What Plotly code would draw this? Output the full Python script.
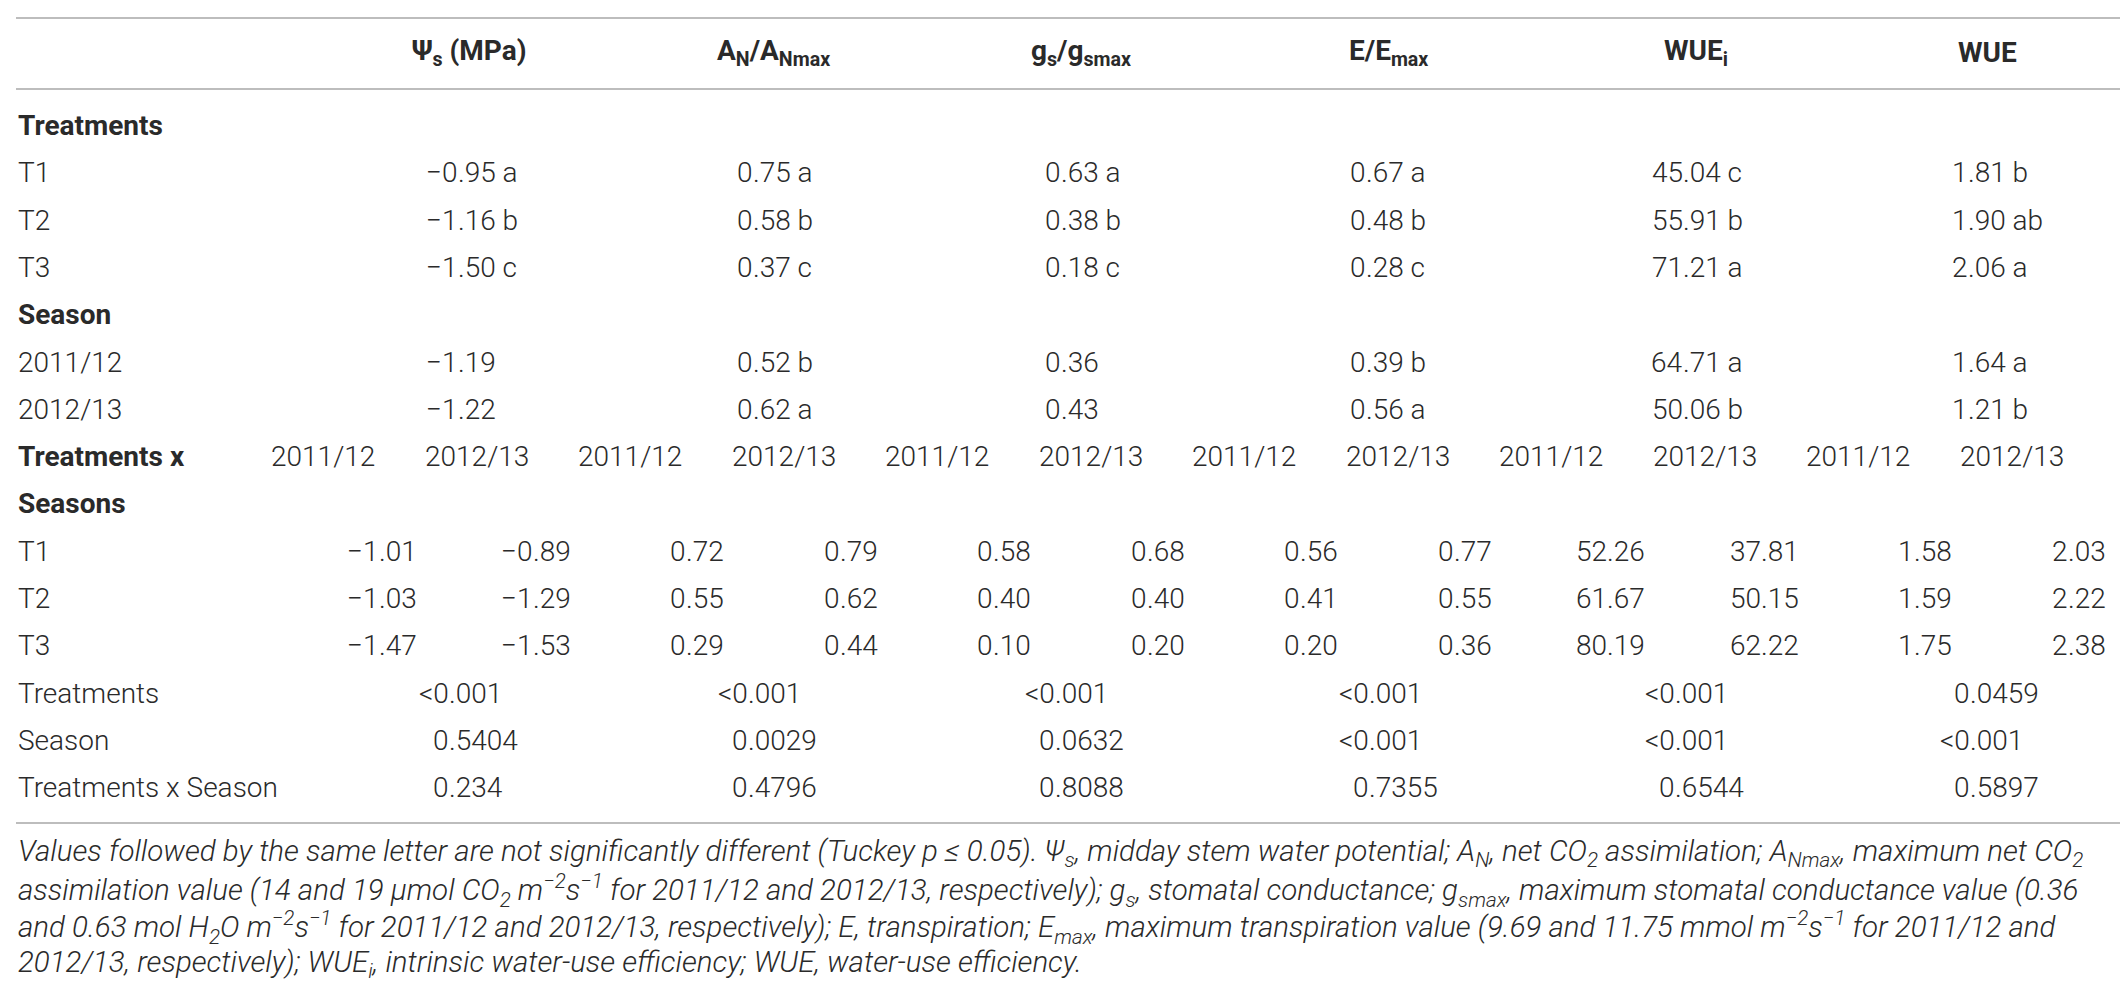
import plotly.graph_objects as go

#-------------------------------------------------------------------------------
#    Table data
#-------------------------------------------------------------------------------
headers = ['Ψ<sub>s</sub> (MPa)', 'A<sub>N</sub>/A<sub>Nmax</sub>',
           'g<sub>s</sub>/g<sub>smax</sub>', 'E/E<sub>max</sub>',
           'WUE<sub>i</sub>', 'WUE']
treatments = ['T1', 'T2', 'T3']
seasons = ['2011/12', '2012/13']

# treatment means
psi_treat = ['−0.95 a', '−1.16 b', '−1.50 c']
an_treat = ['0.75 a', '0.58 b', '0.37 c']
gs_treat = ['0.63 a', '0.38 b', '0.18 c']
e_treat = ['0.67 a', '0.48 b', '0.28 c']
wuei_treat = ['45.04 c', '55.91 b', '71.21 a']
wue_treat = ['1.81 b', '1.90 ab', '2.06 a']

# season means
psi_season = ['−1.19', '−1.22']
an_season = ['0.52 b', '0.62 a']
gs_season = ['0.36', '0.43']
e_season = ['0.39 b', '0.56 a']
wuei_season = ['64.71 a', '50.06 b']
wue_season = ['1.64 a', '1.21 b']

# treatment x season means, rows T1..T3, cols 2011/12, 2012/13
psi_inter = [[-1.01, -0.89], [-1.03, -1.29], [-1.47, -1.53]]
an_inter = [[0.72, 0.79], [0.55, 0.62], [0.29, 0.44]]
gs_inter = [[0.58, 0.68], [0.40, 0.40], [0.10, 0.20]]
e_inter = [[0.56, 0.77], [0.41, 0.55], [0.20, 0.36]]
wuei_inter = [[52.26, 37.81], [61.67, 50.15], [80.19, 62.22]]
wue_inter = [[1.58, 2.03], [1.59, 2.22], [1.75, 2.38]]

# ANOVA p-values
p_labels = ['Treatments', 'Season', 'Treatments x Season']
p_treat = ['<0.001', '<0.001', '<0.001', '<0.001', '<0.001', '0.0459']
p_season = ['0.5404', '0.0029', '0.0632', '<0.001', '<0.001', '<0.001']
p_inter = ['0.234', '0.4796', '0.8088', '0.7355', '0.6544', '0.5897']

footnote = [
    'Values followed by the same letter are not significantly different (Tuckey p ≤ 0.05). '
    'Ψ<sub>s</sub>, midday stem water potential; A<sub>N</sub>, net CO<sub>2</sub> assimilation; '
    'A<sub>Nmax</sub>, maximum net CO<sub>2</sub>',
    'assimilation value (14 and 19 μmol CO<sub>2</sub> m<sup>−2</sup>s<sup>−1</sup> for 2011/12 '
    'and 2012/13, respectively); g<sub>s</sub>, stomatal conductance; g<sub>smax</sub>, maximum '
    'stomatal conductance value (0.36',
    'and 0.63 mol H<sub>2</sub>O m<sup>−2</sup>s<sup>−1</sup> for 2011/12 and 2012/13, respectively); '
    'E, transpiration; E<sub>max</sub>, maximum transpiration value (9.69 and 11.75 mmol '
    'm<sup>−2</sup>s<sup>−1</sup> for 2011/12 and',
    '2012/13, respectively); WUE<sub>i</sub>, intrinsic water-use efficiency; WUE, water-use efficiency.',
]

treat_cols = [psi_treat, an_treat, gs_treat, e_treat, wuei_treat, wue_treat]
season_cols = [psi_season, an_season, gs_season, e_season, wuei_season, wue_season]
inter_cols = [psi_inter, an_inter, gs_inter, e_inter, wuei_inter, wue_inter]

#-------------------------------------------------------------------------------
#    Layout (pixel grid of the page)
#-------------------------------------------------------------------------------
W, H = 2128, 982
FONT = 'Roboto, Liberation Sans, sans-serif'
INK = '#2a2a2a'
SIZE = 28
head_x = [461, 765, 1073, 1380, 1688, 1979]     # header centres
mean_dec = [450, 745, 1053, 1358, 1675, 1960]   # decimal point, mean values
p_dec = [441, 740, 1047, 1361, 1667, 1962]      # decimal point, p-values
sub_dec0, sub_step = 371, 153.5                 # decimal points of the season sub-columns
row_y0, row_step = 117.5, 47.3
label_x = 10

fig = go.Figure()
annots = []


def txt(x, y, s, anchor='left', bold=False, size=SIZE, italic=False):
    annots.append(dict(
        x=x, y=y, xref='x', yref='y', text=s, showarrow=False,
        xanchor=anchor, yanchor='middle', borderpad=0, borderwidth=0,
        font=dict(family=FONT, size=size, color=INK,
                  weight=700 if bold else 300,
                  style='italic' if italic else 'normal'),
    ))


def cell(x_dec, y, s):
    # align on the decimal point
    if '.' in s:
        left, right = s.split('.', 1)
        txt(x_dec, y, left, anchor='right')
        txt(x_dec, y, '.' + right, anchor='left')
    else:
        txt(x_dec, y, s, anchor='left')


def row(i):
    return row_y0 + i * row_step


# header
for j, h in enumerate(headers):
    txt(head_x[j], 44, h, anchor='center', bold=True)

# treatments block
txt(label_x, row(0), 'Treatments', bold=True)
for i, t in enumerate(treatments):
    txt(label_x, row(1 + i), t)
    for j, col in enumerate(treat_cols):
        cell(mean_dec[j], row(1 + i), col[i])

# season block
txt(label_x, row(4), 'Season', bold=True)
for i, s in enumerate(seasons):
    txt(label_x, row(5 + i), s)
    for j, col in enumerate(season_cols):
        cell(mean_dec[j], row(5 + i), col[i])

# treatments x seasons block
txt(label_x, row(7), 'Treatments x', bold=True)
txt(label_x, row(8), 'Seasons', bold=True)
for j in range(len(headers)):
    for k, s in enumerate(seasons):
        txt(sub_dec0 + (2 * j + k) * sub_step - 56, row(7), s, anchor='center')
for i, t in enumerate(treatments):
    txt(label_x, row(9 + i), t)
    for j, col in enumerate(inter_cols):
        for k in range(len(seasons)):
            v = f'{col[i][k]:.2f}'.replace('-', '−')
            cell(sub_dec0 + (2 * j + k) * sub_step, row(9 + i), v)

# p-values
for i, (lab, pv) in enumerate(zip(p_labels, [p_treat, p_season, p_inter])):
    txt(label_x, row(12 + i), lab)
    for j, p in enumerate(pv):
        cell(p_dec[j], row(12 + i), p)

# footnote
for i, line in enumerate(footnote):
    txt(label_x, 845 + i * 37, line, size=29.5, italic=True)

# horizontal rules
for y in [10, 81, 815]:
    fig.add_shape(type='line', xref='x', yref='y', x0=8, x1=2118, y0=y, y1=y,
                  line=dict(color='#bdbdbd', width=2))

fig.update_layout(
    width=W, height=H,
    margin=dict(l=0, r=0, t=0, b=0),
    paper_bgcolor='white', plot_bgcolor='white',
    xaxis=dict(range=[0, W], visible=False, fixedrange=True),
    yaxis=dict(range=[H, 0], visible=False, fixedrange=True),
    annotations=annots,
    showlegend=False,
)
fig.write_html('out.html')
